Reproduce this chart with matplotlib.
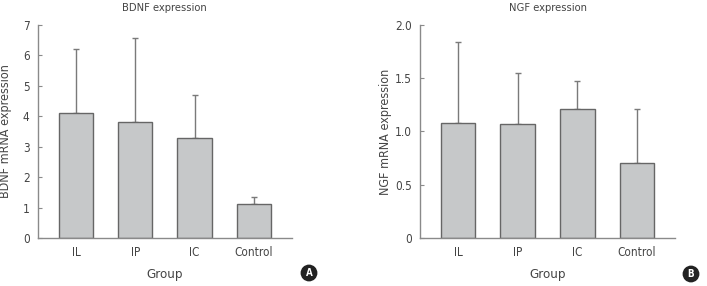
import matplotlib.pyplot as plt

plt.rcParams['font.family'] = ['DejaVu Sans']
plt.rcParams['font.stretch'] = 'condensed'

groups = ["IL", "IP", "IC", "Control"]

# BDNF (panel A)
bdnf_mean = [4.12, 3.81, 3.27, 1.12]
bdnf_sd = [2.10, 2.75, 1.41, 0.21]
bdnf_ticks = [0, 1, 2, 3, 4, 5, 6, 7]
bdnf_ticklabels = ["0", "1", "2", "3", "4", "5", "6", "7"]

# NGF (panel B)
ngf_mean = [1.08, 1.07, 1.21, 0.70]
ngf_sd = [0.76, 0.48, 0.26, 0.51]
ngf_ticks = [0, 0.5, 1.0, 1.5, 2.0]
ngf_ticklabels = ["0", "0.5", "1.0", "1.5", "2.0"]

txt = "#444444"
axc = "#8a8a8a"

fig = plt.figure(figsize=(7.07, 2.86), dpi=100)


def panel(rect, mean, sd, ticks, ticklabels, ylabel, title, letter, lpos, ypad):
    ax = fig.add_axes(rect)
    x = range(len(groups))
    ax.bar(x, mean, width=0.58, color="#c6c8c9", edgecolor="#666666",
           linewidth=1.0, zorder=2)
    ax.errorbar(x, mean, yerr=[[0] * len(sd), sd], fmt="none",
                ecolor="#7a7a7a", elinewidth=1.0, capsize=2.5, capthick=1.0,
                zorder=1)
    ax.set_xlim(-0.64, 3.64)
    ax.set_ylim(0, ticks[-1])
    ax.set_yticks(ticks)
    ax.set_yticklabels(ticklabels)
    ax.set_xticks(list(x))
    ax.set_xticklabels(groups)
    for s in ["top", "right"]:
        ax.spines[s].set_visible(False)
    for s in ["left", "bottom"]:
        ax.spines[s].set_color(axc)
        ax.spines[s].set_linewidth(1.0)
    ax.tick_params(axis="y", direction="in", length=3, color=axc,
                   labelsize=8.5, labelcolor=txt, pad=6)
    ax.tick_params(axis="x", length=0, labelsize=8.5, labelcolor=txt, pad=6)
    ax.set_xlabel("Group", fontsize=9.5, color=txt, labelpad=6)
    ax.set_ylabel(ylabel, fontsize=9, color=txt, labelpad=ypad)
    ax.set_title(title, fontsize=8, color=txt, pad=10)
    fig.text(lpos[0], lpos[1], letter, color="white", fontsize=7,
             fontweight="bold", ha="center", va="center",
             bbox=dict(boxstyle="circle,pad=0.35", facecolor="#222222",
                       edgecolor="none"))
    return ax


panel([0.0537, 0.168, 0.359, 0.745], bdnf_mean, bdnf_sd, bdnf_ticks,
      bdnf_ticklabels, "BDNF mRNA expression", "BDNF expression", "A",
      (309 / 707, 1 - 273 / 286), 8)
panel([0.594, 0.168, 0.361, 0.745], ngf_mean, ngf_sd, ngf_ticks,
      ngf_ticklabels, "NGF mRNA expression", "NGF expression", "B",
      (691 / 707, 1 - 274 / 286), 2)

fig.savefig("out.png", dpi=100)
